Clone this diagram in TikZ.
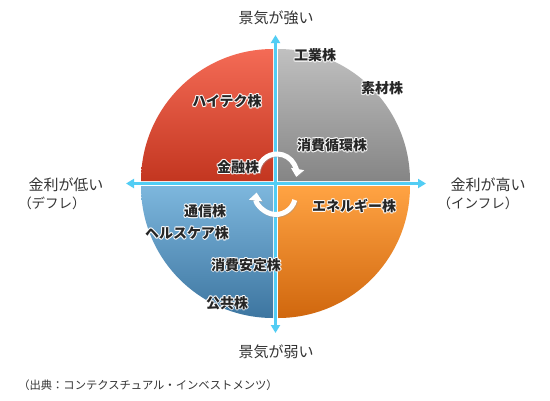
\documentclass[tikz,border=0pt]{standalone}
\usepackage{fontspec}
\setmainfont{Noto Sans CJK JP}
\usetikzlibrary{arrows.meta}
\definecolor{axiscol}{HTML}{52CDF4}
\definecolor{redtop}{HTML}{F46B56}
\definecolor{redbot}{HTML}{C33620}
\definecolor{graytop}{HTML}{C0C0C0}
\definecolor{graybot}{HTML}{858585}
\definecolor{orgtop}{HTML}{FFA343}
\definecolor{orgbot}{HTML}{D0670E}
\definecolor{bluetop}{HTML}{7DB7DD}
\definecolor{bluebot}{HTML}{3D75A0}
\definecolor{txt}{HTML}{333333}
\tikzset{
  axisline/.style={draw=axiscol, line width=3pt, -{Triangle[width=9pt,length=8pt]}},
  lbl/.style={font=\bfseries\fontsize{14}{16}\selectfont, text=black!85, inner sep=0pt},
  axislbl/.style={font=\fontsize{15}{17}\selectfont, text=txt, inner sep=0pt},
  paren/.style={font=\fontsize{13.5}{15}\selectfont, text=txt, inner sep=0pt},
  rotarrow/.style={draw=white, line width=5pt, -{Triangle[width=13pt,length=8pt]}},
  rotshadow/.style={draw=black!40, opacity=0.45, line width=5pt, -{Triangle[width=13pt,length=8pt]}}
}
\newcommand\glowlabel[3]{%
  \foreach \dx/\dy in {-1/0,1/0,0/-1,0/1,-0.7/-0.7,0.7/0.7,-0.7/0.7,0.7/-0.7}
    {\node[lbl,text=white,opacity=0.8,xshift=\dx pt,yshift=\dy pt] at (#2) {#3};}
  \node[lbl] (#1) at (#2) {#3};}
\begin{document}
\begin{tikzpicture}[x=1pt,y=-1pt]
\useasboundingbox (0,0) rectangle (550,400);
\fill[white] (0,0) rectangle (550,400);
% quadrants
\shade[top color=redtop, bottom color=redbot] (273,181) -- ++(-132,0) arc[start angle=180, end angle=270, radius=132] -- cycle;
\shade[top color=graytop, bottom color=graybot] (278,181) -- ++(0,-132) arc[start angle=270, end angle=360, radius=132] -- cycle;
\shade[top color=orgtop, bottom color=orgbot] (278,186) -- ++(132,0) arc[start angle=0, end angle=90, radius=132] -- cycle;
\shade[top color=bluetop, bottom color=bluebot] (273,186) -- ++(0,132) arc[start angle=90, end angle=180, radius=132] -- cycle;
% axes
\coordinate (o) at (275.5,183.5);
\coordinate (top) at (275.5,35);
\coordinate (bot) at (275.5,333);
\coordinate (lft) at (126,183.5);
\coordinate (rgt) at (426,183.5);
\draw[axisline] (o) -- (top);
\draw[axisline] (o) -- (bot);
\draw[axisline] (o) -- (lft);
\draw[axisline] (o) -- (rgt);
% rotation arrows
\coordinate (ua) at (257.5,172.8);
\coordinate (la) at (294.8,200);
\draw[rotshadow] ([shift={(0.8,0.8)}]ua) arc[start angle=182, end angle=370, radius=19.5];
\draw[rotarrow] (ua) arc[start angle=182, end angle=370, radius=19.5];
\draw[rotshadow] ([shift={(0.8,0.8)}]la) arc[start angle=15, end angle=187, radius=19.5];
\draw[rotarrow] (la) arc[start angle=15, end angle=187, radius=19.5];
% inner labels
\glowlabel{ind}{315,55}{工業株}
\glowlabel{mat}{382,88}{素材株}
\glowlabel{tech}{227,101}{ハイテク株}
\glowlabel{cyc}{332,145}{消費循環株}
\glowlabel{fin}{238,167}{金融株}
\glowlabel{ene}{354,206}{エネルギー株}
\glowlabel{tel}{205,211}{通信株}
\glowlabel{hc}{187,233}{ヘルスケア株}
\glowlabel{stp}{246,265}{消費安定株}
\glowlabel{utl}{227,303}{公共株}
% axis labels
\node[axislbl] (strong) at (276,18) {景気が強い};
\node[axislbl] (weak) at (276,352) {景気が弱い};
\node[axislbl] (low) at (66,185) {金利が低い};
\node[paren] (defl) at (52,203) {（デフレ）};
\node[axislbl] (high) at (488,185) {金利が高い};
\node[paren] (infl) at (478,203) {（インフレ）};
\node[font=\fontsize{11.3}{13}\selectfont, text=txt, inner sep=0pt] (src) at (148,385) {（出典：コンテクスチュアル・インベストメンツ）};
\end{tikzpicture}
\end{document}
